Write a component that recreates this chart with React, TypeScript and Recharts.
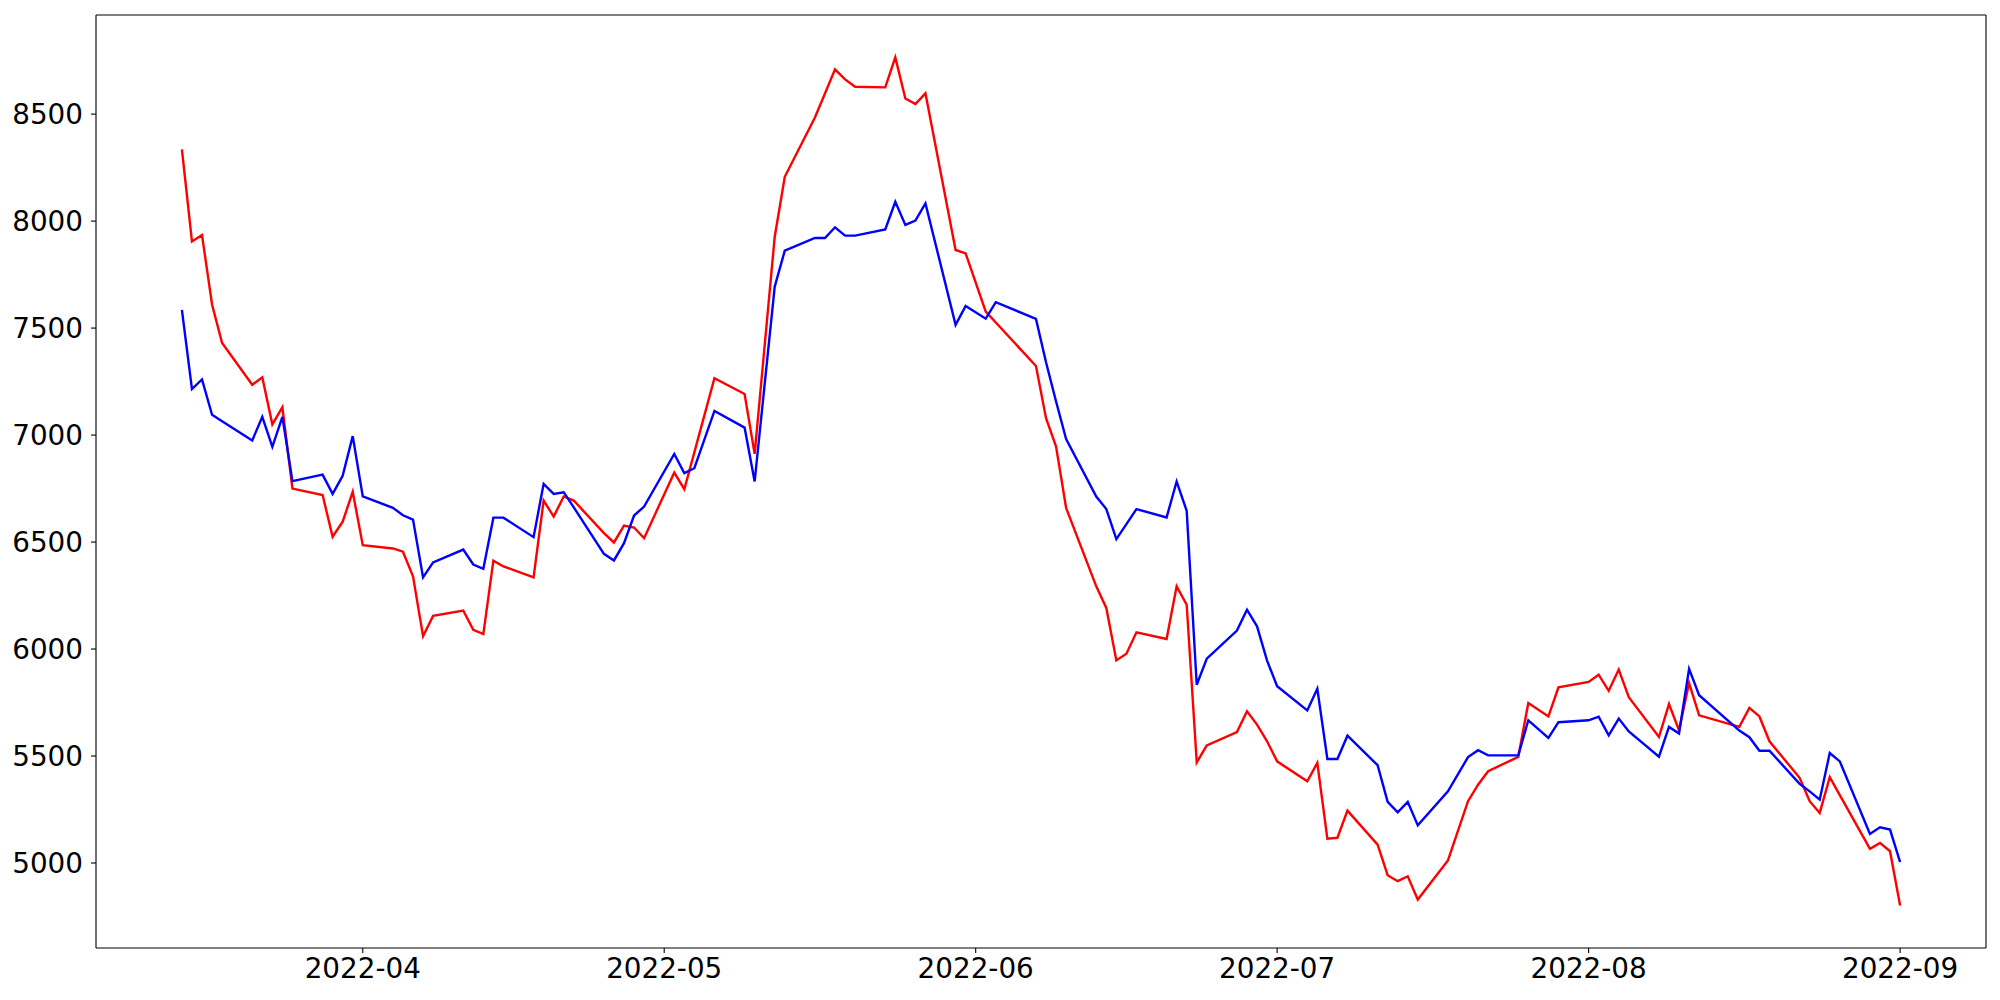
import { LineChart, Line, XAxis, YAxis, ReferenceLine } from "recharts";

// ── Data ─────────────────────────────────────────────────────────────────────

const dates = [
  "2022-03-14", "2022-03-15", "2022-03-16", "2022-03-17", "2022-03-18",
  "2022-03-21", "2022-03-22", "2022-03-23", "2022-03-24", "2022-03-25",
  "2022-03-28", "2022-03-29", "2022-03-30", "2022-03-31", "2022-04-01",
  "2022-04-04", "2022-04-05", "2022-04-06", "2022-04-07", "2022-04-08",
  "2022-04-11", "2022-04-12", "2022-04-13", "2022-04-14", "2022-04-15",
  "2022-04-18", "2022-04-19", "2022-04-20", "2022-04-21", "2022-04-22",
  "2022-04-25", "2022-04-26", "2022-04-27", "2022-04-28", "2022-04-29",
  "2022-05-02", "2022-05-03", "2022-05-04", "2022-05-06",
  "2022-05-09", "2022-05-10", "2022-05-12", "2022-05-13",
  "2022-05-16", "2022-05-17", "2022-05-18", "2022-05-19", "2022-05-20",
  "2022-05-23", "2022-05-24", "2022-05-25", "2022-05-26", "2022-05-27",
  "2022-05-30", "2022-05-31", "2022-06-02", "2022-06-03",
  "2022-06-07", "2022-06-08", "2022-06-09", "2022-06-10",
  "2022-06-13", "2022-06-14", "2022-06-15", "2022-06-16", "2022-06-17",
  "2022-06-20", "2022-06-21", "2022-06-22", "2022-06-23", "2022-06-24",
  "2022-06-27", "2022-06-28", "2022-06-29", "2022-06-30", "2022-07-01",
  "2022-07-04", "2022-07-05", "2022-07-06", "2022-07-07", "2022-07-08",
  "2022-07-11", "2022-07-12", "2022-07-13", "2022-07-14", "2022-07-15",
  "2022-07-18", "2022-07-20", "2022-07-21", "2022-07-22",
  "2022-07-25", "2022-07-26", "2022-07-28", "2022-07-29",
  "2022-08-01", "2022-08-02", "2022-08-03", "2022-08-04", "2022-08-05",
  "2022-08-08", "2022-08-09", "2022-08-10", "2022-08-11", "2022-08-12",
  "2022-08-16", "2022-08-17", "2022-08-18", "2022-08-19",
  "2022-08-22", "2022-08-23", "2022-08-24", "2022-08-25", "2022-08-26",
  "2022-08-29", "2022-08-30", "2022-08-31", "2022-09-01",
];

const redValues = [
  8335, 7905, 7935, 7610, 7430,
  7235, 7270, 7050, 7130, 6750,
  6720, 6525, 6595, 6735, 6485,
  6470, 6455, 6340, 6060, 6155,
  6180, 6090, 6070, 6413, 6386,
  6335, 6694, 6619, 6713, 6694,
  6542, 6498, 6577, 6568, 6518,
  6825, 6747, 6919, 7266,
  7192, 6912, 7927, 8207,
  8484, 8596, 8709, 8662, 8628,
  8625, 8765, 8573, 8547, 8597,
  7865, 7849, 7577, 7526,
  7323, 7079, 6946, 6659,
  6293, 6192, 5947, 5978, 6078,
  6047, 6293, 6207, 5470, 5550,
  5612, 5709, 5647, 5569, 5475,
  5382, 5468, 5114, 5118, 5245,
  5086, 4943, 4915, 4938, 4829,
  5012, 5289, 5366, 5429,
  5496, 5748, 5685, 5821,
  5846, 5880, 5805, 5904, 5775,
  5589, 5743, 5620, 5841, 5690,
  5636, 5725, 5685, 5569,
  5398, 5289, 5234, 5401, 5317,
  5066, 5094, 5055, 4801,
];

const blueValues = [
  7585, 7215, 7260, 7095, 7065,
  6975, 7085, 6945, 7085, 6785,
  6815, 6725, 6810, 6995, 6713,
  6660, 6625, 6605, 6335, 6405,
  6465, 6395, 6375, 6614, 6614,
  6523, 6772, 6725, 6733, 6662,
  6445, 6414, 6495, 6624, 6666,
  6912, 6822, 6845, 7113,
  7035, 6783, 7694, 7862,
  7921, 7921, 7971, 7932, 7932,
  7961, 8090, 7982, 8002, 8083,
  7515, 7603, 7544, 7621,
  7543, 7340, 7157, 6981,
  6713, 6654, 6514, 6584, 6654,
  6615, 6783, 6646, 5833, 5955,
  6086, 6184, 6106, 5946, 5826,
  5713, 5815, 5486, 5486, 5595,
  5457, 5286, 5237, 5286, 5176,
  5335, 5495, 5527, 5503,
  5503, 5667, 5585, 5658,
  5667, 5684, 5597, 5675, 5615,
  5497, 5636, 5605, 5907, 5784,
  5619, 5588, 5525, 5525,
  5370, 5335, 5296, 5514, 5475,
  5136, 5167, 5156, 5004,
];

const monthTicks = ["2022-04-01", "2022-05-01", "2022-06-01", "2022-07-01", "2022-08-01", "2022-09-01"];
const yTicks = [5000, 5500, 6000, 6500, 7000, 7500, 8000, 8500];

// ── Derived table / domains (matplotlib-style 5% margins) ────────────────────

const toMs = (d: string) => Date.parse(d + "T00:00:00Z");

const rows = dates.map((d, i) => ({ t: toMs(d), red: redValues[i], blue: blueValues[i] }));

const tMin = toMs(dates[0]);
const tMax = toMs(dates[dates.length - 1]);
const tPad = (tMax - tMin) * 0.05;
const xDomain: [number, number] = [tMin - tPad, tMax + tPad];

const allVals = [...redValues, ...blueValues];
const vMin = Math.min(...allVals);
const vMax = Math.max(...allVals);
const vPad = (vMax - vMin) * 0.05;
const yDomain: [number, number] = [vMin - vPad, vMax + vPad];

const tickStyle = { fill: "#000", fontSize: 27.8, fontFamily: "DejaVu Sans" };
const frame = { stroke: "#000", strokeWidth: 1.1 };

export default function App() {
  return (
    <div style={{ position: "absolute", left: 0, top: 0, width: 2000, height: 1000, background: "#fff" }}>
      <LineChart
        width={2000}
        height={1000}
        data={rows}
        margin={{ top: 15, right: 14, bottom: 0, left: 0 }}
      >
        <XAxis
          dataKey="t"
          type="number"
          domain={xDomain}
          allowDataOverflow
          ticks={monthTicks.map(toMs)}
          tickFormatter={(v: number) => new Date(v).toISOString().slice(0, 7)}
          tick={tickStyle}
          tickSize={5}
          tickMargin={5}
          axisLine={frame}
          tickLine={frame}
          height={52}
        />
        <YAxis
          type="number"
          domain={yDomain}
          allowDataOverflow
          ticks={yTicks}
          tick={tickStyle}
          tickSize={5}
          tickMargin={8}
          axisLine={frame}
          tickLine={frame}
          width={96}
        />
        {/* top and right spines of the matplotlib box */}
        <ReferenceLine y={yDomain[1]} stroke="#000" strokeWidth={1.1} />
        <ReferenceLine x={xDomain[1]} stroke="#000" strokeWidth={1.1} />
        <Line
          type="linear"
          dataKey="red"
          stroke="#ff0000"
          strokeWidth={2.4}
          dot={false}
          activeDot={false}
          isAnimationActive={false}
        />
        <Line
          type="linear"
          dataKey="blue"
          stroke="#0000ff"
          strokeWidth={2.4}
          dot={false}
          activeDot={false}
          isAnimationActive={false}
        />
      </LineChart>
    </div>
  );
}
